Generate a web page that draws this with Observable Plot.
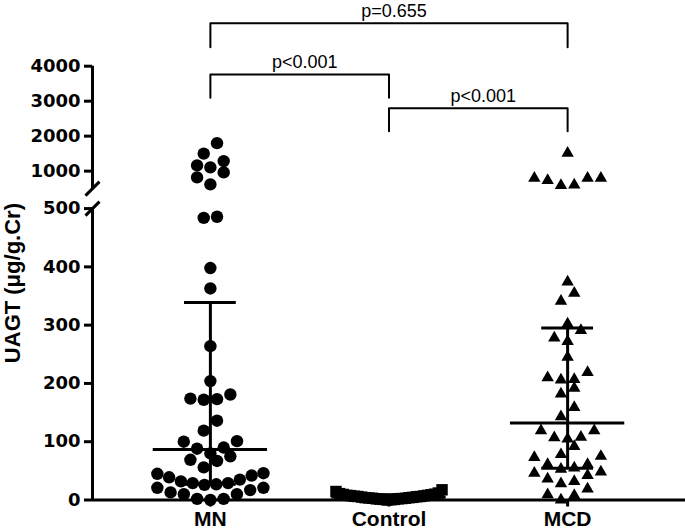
<!DOCTYPE html>
<html><head><meta charset="utf-8">
<script src="https://cdn.jsdelivr.net/npm/d3@7"></script>
<script src="https://cdn.jsdelivr.net/npm/@observablehq/plot@0.6"></script>
<style>body{margin:0;background:#fff}</style>
</head><body><div id="chart"></div>
<script>
// ---- data ----
const categories = ["MN", "Control", "MCD"];
const mnValues = [1800, 1500, 1286, 1163, 1106, 963, 820, 620,
  486, 484, 398, 363, 264, 204, 181, 174, 173, 172, 136, 119,
  101, 100, 90, 88, 80, 75, 69, 67, 56,
  46, 45, 42, 39, 35, 32, 29, 29, 27, 26,
  21, 21, 17, 13, 10, 10, 2, 2, 0];
const controlValues = [0, 0.5, 1, 1, 1.5, 2, 2, 2.5, 3, 3, 3.5, 4, 4, 4.5, 5,
  5.5, 6, 6, 6.5, 7, 7.5, 8, 8, 9, 9.5, 10, 11, 12, 14.6, 17.5];
const mcdValues = [1513, 798, 798, 798, 732, 608, 588,
  374, 355, 341, 302, 291, 278, 272, 245, 219, 210, 207, 206, 192, 182,
  159, 143, 119, 119, 108, 107, 105, 92, 78, 75, 73, 61, 61, 55, 53,
  48, 46, 42, 36, 32, 28, 19, 9, 8, 0];
const medians = [86.6, 5, 132];
const q1s = [27, 2.5, 54.5];
const q3s = [339, 9, 295];
const lowerTicks = [0, 100, 200, 300, 400, 500];
const upperTicks = [1000, 2000, 3000, 4000];
const compFrom = [0, 0, 1];
const compTo = [2, 1, 2];
const compLabels = ["p=0.655", "p<0.001", "p<0.001"];
const compTop = [5230, 3763, 2800];
const compLeg = [4543, 3097, 2142];
const yTitle = "UAGT (\u03BCg/g.Cr)";

// ---- broken y axis: lower segment 0..500, upper segment 500..4000 ----
const lowerMax = 500, upperMin = 500, upperMax = 4000, gap = 34.3, k = 0.06;
const up = v => lowerMax + gap + (v - upperMin) * k;
const brk = v => (v <= lowerMax ? v : up(v));

// ---- scatter layout (rows, lowest value in the centre) ----
const rowH = 23, step = 0.0745, maxHalf = 0.297;
function swarm(values, gi) {
  const s = values.slice().sort((a, b) => a - b);
  const rows = [];
  let cur = null;
  for (const v of s) {
    if (!cur || brk(v) - brk(cur[0]) > rowH) { cur = [v]; rows.push(cur); }
    else cur.push(v);
  }
  const out = [];
  for (const row of rows) {
    const n = row.length;
    const sp = n > 1 ? Math.min(step, (2 * maxHalf) / (n - 1)) : 0;
    const pos = d3.range(n).map(j => (j - (n - 1) / 2) * sp);
    pos.sort((a, b) => Math.abs(a) - Math.abs(b) || a - b);
    row.forEach((v, j) => out.push({group: categories[gi], value: v, x: gi + pos[j], y: brk(v)}));
  }
  return out;
}
const mnPts = swarm(mnValues, 0);
const ctlPts = swarm(controlValues, 1);
const mcdPts = swarm(mcdValues, 2);

const xMin = -0.66, xMax = 2.66;
const idx = d3.range(categories.length);
const yTicks = [...lowerTicks.map(brk), ...upperTicks.map(up)];
const tickLabel = new Map([...lowerTicks.map(v => [brk(v), String(v)]), ...upperTicks.map(v => [up(v), String(v)])]);
const axisSegs = [{y1: 0, y2: brk(lowerMax)}, {y1: up(upperMin), y2: up(upperMax)}];
const breakPts = [brk(lowerMax), up(upperMin)];
const slash = {draw(ctx, size) { const s = Math.sqrt(size) / 2; ctx.moveTo(-s, s); ctx.lineTo(s, -s); }};

const bracketPts = [];
idx.forEach(i => {
  bracketPts.push({c: i, x: compFrom[i], y: brk(compLeg[i])});
  bracketPts.push({c: i, x: compFrom[i], y: brk(compTop[i])});
  bracketPts.push({c: i, x: compTo[i], y: brk(compTop[i])});
  bracketPts.push({c: i, x: compTo[i], y: brk(compLeg[i])});
});

const medHalf = 0.32, qHalf = 0.145;

const chart = Plot.plot({
  width: 685, height: 531,
  marginLeft: 92, marginRight: 0, marginTop: 65.7, marginBottom: 31.5,
  x: {domain: [xMin, xMax]},
  y: {domain: [0, up(upperMax)]},
  style: {fontFamily: "'Liberation Sans', Arial, sans-serif", background: "white", color: "black", overflow: "visible"},
  marks: [
    Plot.ruleX(axisSegs, {x: () => xMin, y1: "y1", y2: "y2", stroke: "black", strokeWidth: 3}),
    Plot.dot(breakPts, {x: () => xMin, y: d => d, symbol: slash, r: 7.9, stroke: "black", fill: "none", strokeWidth: 3}),
    Plot.axisY({ticks: yTicks, tickFormat: t => tickLabel.get(t), tickSize: 8, tickPadding: 4,
      strokeWidth: 3, fontSize: 18, fontFamily: "DejaVu Sans", fontWeight: "bold", label: null}),
    Plot.ruleY([0], {stroke: "black", strokeWidth: 3}),
    Plot.axisX({ticks: idx, tickFormat: i => categories[i], tickSize: 7, tickPadding: 4.5,
      strokeWidth: 3, fontSize: 21, fontFamily: "'Liberation Sans', Arial, sans-serif", fontWeight: "bold", label: null}),
    Plot.text([yTitle], {frameAnchor: "left", dx: -73, rotate: -90, textAnchor: "middle", lineAnchor: "bottom",
      fontSize: 22, fontWeight: "bold", fill: "black"}),
    Plot.dot(mnPts, {x: "x", y: "y", r: 6.2, fill: "black", stroke: "none"}),
    Plot.dot(ctlPts, {x: "x", y: "y", symbol: "square", r: 6.45, fill: "black", stroke: "none"}),
    Plot.dot(mcdPts, {x: "x", y: "y", symbol: "triangle", r: 4.6, fill: "black", stroke: "none"}),
    Plot.ruleX(idx, {x: i => i, y1: i => brk(q1s[i]), y2: i => brk(q3s[i]), stroke: "black", strokeWidth: 3}),
    Plot.ruleY(idx, {y: i => brk(medians[i]), x1: i => i - medHalf, x2: i => i + medHalf, stroke: "black", strokeWidth: 3}),
    Plot.ruleY(idx, {y: i => brk(q1s[i]), x1: i => i - qHalf, x2: i => i + qHalf, stroke: "black", strokeWidth: 3}),
    Plot.ruleY(idx, {y: i => brk(q3s[i]), x1: i => i - qHalf, x2: i => i + qHalf, stroke: "black", strokeWidth: 3}),
    Plot.line(bracketPts, {x: "x", y: "y", z: "c", stroke: "black", strokeWidth: 2, curve: "linear"}),
    Plot.text(idx, {x: i => (compFrom[i] + compTo[i]) / 2, y: i => brk(compTop[i]), text: i => compLabels[i],
      lineAnchor: "bottom", dy: -6, dx: 5, fontSize: 18, fontWeight: "normal", fill: "black"})
  ]
});
document.getElementById("chart").appendChild(chart);
</script>
</body></html>
